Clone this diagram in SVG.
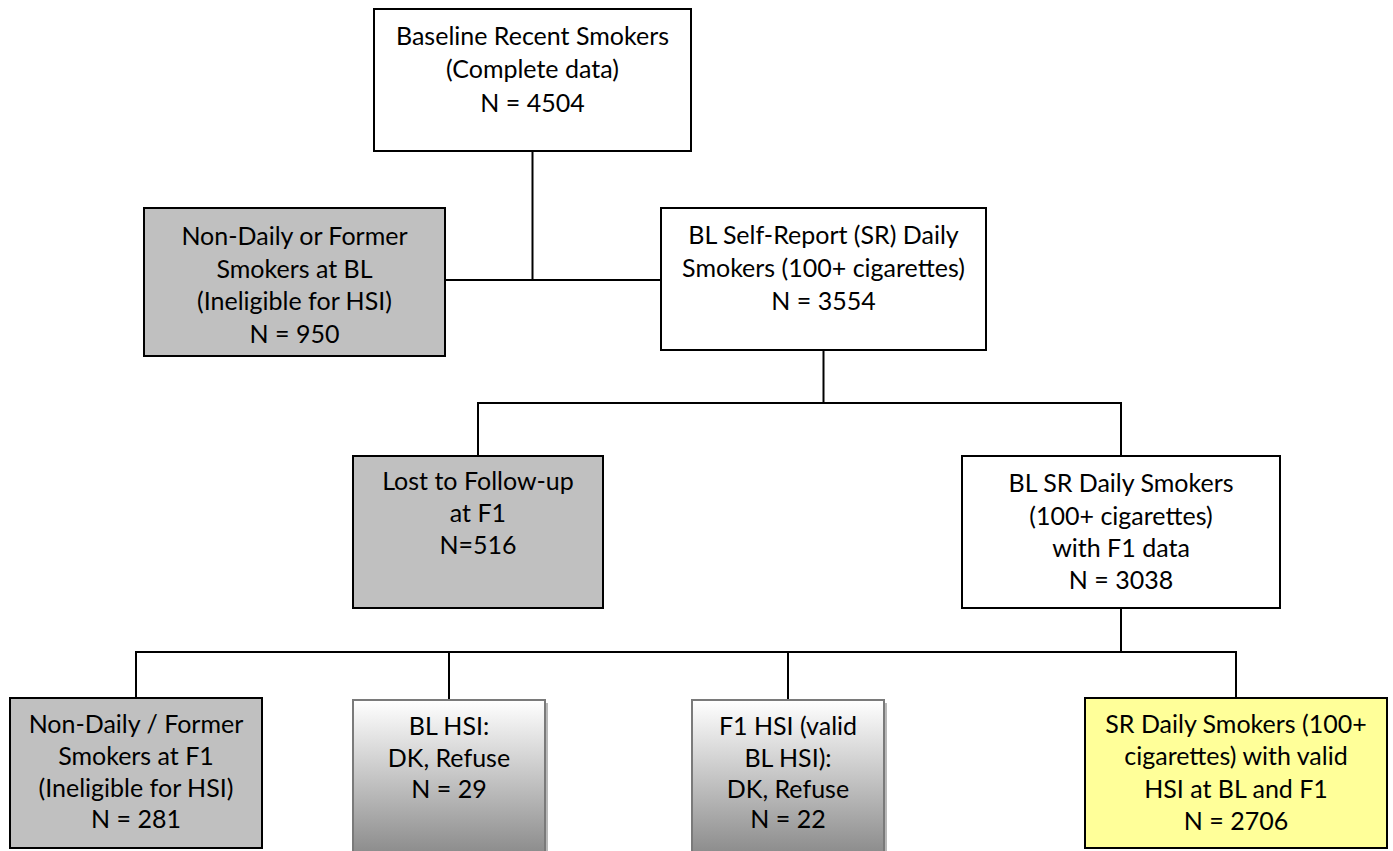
<svg xmlns="http://www.w3.org/2000/svg" width="1393" height="851" viewBox="0 0 1393 851">
<defs>
<linearGradient id="gr" x1="0" y1="0" x2="0" y2="1">
<stop offset="0" stop-color="#ffffff"/>
<stop offset="1" stop-color="#878787"/>
</linearGradient>
</defs>
<style>
.b{fill:#fff;stroke:#000;stroke-width:2}
.g{fill:#c0c0c0;stroke:#000;stroke-width:2}
.y{fill:#ffff99;stroke:#000;stroke-width:2}
.gd{fill:url(#gr);stroke:#7a7a7a;stroke-width:2}
.sh{fill:#b8b8b8}
.t{font-family:Lato,"Open Sans",sans-serif;font-size:25px;fill:#000;text-anchor:middle}
.c{fill:none;stroke:#000;stroke-width:2}
</style>
<rect width="1393" height="851" fill="#fff"/>
<g id="connectors">
<polyline class="c" points="532.5,151 532.5,280 445,280"/>
<line class="c" x1="532.5" y1="280" x2="661" y2="280"/>
<polyline class="c" points="823.5,350 823.5,403"/>
<polyline class="c" points="478,456 478,403 1121,403 1121,456"/>
<line class="c" x1="1121" y1="608" x2="1121" y2="652"/>
<polyline class="c" points="136,698 136,652 1236,652 1236,698"/>
<line class="c" x1="449" y1="652" x2="449" y2="700"/>
<line class="c" x1="788" y1="652" x2="788" y2="700"/>
</g>
<g id="n1">
<rect class="b" x="374" y="9" width="317" height="142"/>
<text class="t" x="532.5" y="45">Baseline Recent Smokers</text>
<text class="t" x="532.5" y="78">(Complete data)</text>
<text class="t" x="532.5" y="112">N = 4504</text>
</g>
<g id="n2">
<rect class="g" x="144" y="208" width="301" height="148"/>
<text class="t" x="294.5" y="245">Non-Daily or Former</text>
<text class="t" x="294.5" y="278">Smokers at BL</text>
<text class="t" x="294.5" y="310">(Ineligible for HSI)</text>
<text class="t" x="294.5" y="343">N = 950</text>
</g>
<g id="n3">
<rect class="b" x="661" y="208" width="325" height="142"/>
<text class="t" x="823.5" y="244">BL Self-Report (SR) Daily</text>
<text class="t" x="823.5" y="277">Smokers (100+ cigarettes)</text>
<text class="t" x="823.5" y="310">N = 3554</text>
</g>
<g id="n4">
<rect class="g" x="353" y="456" width="250" height="152"/>
<text class="t" x="478" y="490">Lost to Follow-up</text>
<text class="t" x="478" y="522">at F1</text>
<text class="t" x="478" y="554">N=516</text>
</g>
<g id="n5">
<rect class="b" x="962" y="456" width="318" height="152"/>
<text class="t" x="1121" y="492">BL SR Daily Smokers</text>
<text class="t" x="1121" y="525">(100+ cigarettes)</text>
<text class="t" x="1121" y="557">with F1 data</text>
<text class="t" x="1121" y="589">N = 3038</text>
</g>
<g id="n6">
<rect class="g" x="10" y="698" width="252" height="150"/>
<text class="t" x="136" y="733">Non-Daily / Former</text>
<text class="t" x="136" y="765">Smokers at F1</text>
<text class="t" x="136" y="797">(Ineligible for HSI)</text>
<text class="t" x="136" y="828">N = 281</text>
</g>
<g id="n7">
<rect class="sh" x="356" y="703" width="192" height="160"/>
<rect class="gd" x="353" y="700" width="192" height="160"/>
<text class="t" x="449" y="735">BL HSI:</text>
<text class="t" x="449" y="767">DK, Refuse</text>
<text class="t" x="449" y="798">N = 29</text>
</g>
<g id="n8">
<rect class="sh" x="695" y="703" width="192" height="160"/>
<rect class="gd" x="692" y="700" width="192" height="160"/>
<text class="t" x="788" y="735">F1 HSI (valid</text>
<text class="t" x="788" y="767">BL HSI):</text>
<text class="t" x="788" y="798">DK, Refuse</text>
<text class="t" x="788" y="828">N = 22</text>
</g>
<g id="n9">
<rect class="y" x="1085" y="698" width="302" height="150"/>
<text class="t" x="1236" y="733">SR Daily Smokers (100+</text>
<text class="t" x="1236" y="765">cigarettes) with valid</text>
<text class="t" x="1236" y="798">HSI at BL and F1</text>
<text class="t" x="1236" y="830">N = 2706</text>
</g>
</svg>
